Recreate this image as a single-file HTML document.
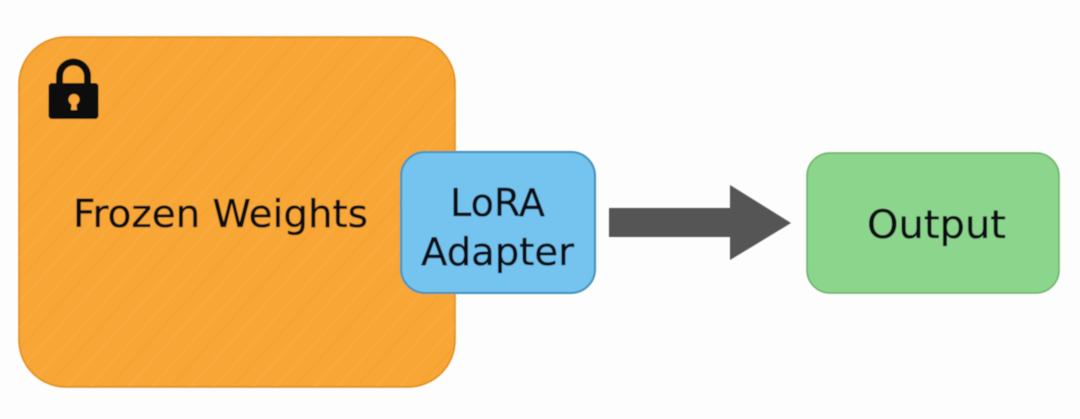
<!DOCTYPE html>
<html><head><meta charset="utf-8"><style>
html,body{margin:0;padding:0;background:#fdfdfd}
svg{display:block}
text{font-family:"DejaVu Sans","Liberation Sans",sans-serif;fill:#0c1114;stroke:#0c1114;stroke-width:.35px}
</style></head><body>
<svg width="1080" height="419" viewBox="0 0 1080 419" xmlns="http://www.w3.org/2000/svg">
<defs>
<pattern id="h" width="46" height="46" patternUnits="userSpaceOnUse" patternTransform="rotate(-48)">
<rect x="0" y="3" width="46" height="1.500" fill="#ffd08a" opacity=".16"/>
<rect x="0" y="17" width="46" height="1.500" fill="#b86b00" opacity=".05"/>
<rect x="0" y="31" width="46" height="3" fill="#ffd08a" opacity=".08"/>
</pattern>
<filter id="soft" x="-2%" y="-2%" width="104%" height="104%"><feGaussianBlur stdDeviation="0.4"/></filter>
</defs>
<rect width="1080" height="419" fill="#fdfdfd"/>
<g filter="url(#soft)">
<rect x="19" y="37" width="436" height="350" rx="47" fill="#f8a636" stroke="#e08a1f" stroke-width="1.500"/>
<rect x="19" y="37" width="436" height="350" rx="47" fill="url(#h)"/>
<g fill="#111">
<path d="M56 86V76a17.500 17.500 0 0 1 35 0V86h-7V76a10.500 10.500 0 0 0-21 0V86z"/>
<path fill-rule="evenodd" d="M52 83H95a3.500 3.500 0 0 1 3.500 3.500V115.500a3.500 3.500 0 0 1-3.500 3.500H52a3.500 3.500 0 0 1-3.500-3.500V86.500a3.500 3.500 0 0 1 3.500-3.500zM74 94a5.500 5.500 0 0 0-2.500 10.400L71 110h6l-.5-5.600A5.500 5.500 0 0 0 74 94z"/>
</g>
<text x="73" y="227" font-size="38.500" textLength="295" lengthAdjust="spacingAndGlyphs">Frozen Weights</text>
<rect x="401" y="152" width="194" height="141" rx="24" fill="#74c3ef" stroke="#3f92b8" stroke-width="2"/>
<text x="450" y="216" font-size="38.500" textLength="95" lengthAdjust="spacingAndGlyphs">LoRA</text>
<text x="421" y="265" font-size="38.500" textLength="153" lengthAdjust="spacingAndGlyphs">Adapter</text>
<path d="M609 208H730V185L791 223L730 260V237H609z" fill="#555557"/>
<rect x="807" y="153" width="252" height="140" rx="23" fill="#8cd58c" stroke="#6bb06b" stroke-width="1.500"/>
<text x="867" y="238" font-size="39" textLength="139" lengthAdjust="spacingAndGlyphs">Output</text>
</g>
</svg>
</body></html>
